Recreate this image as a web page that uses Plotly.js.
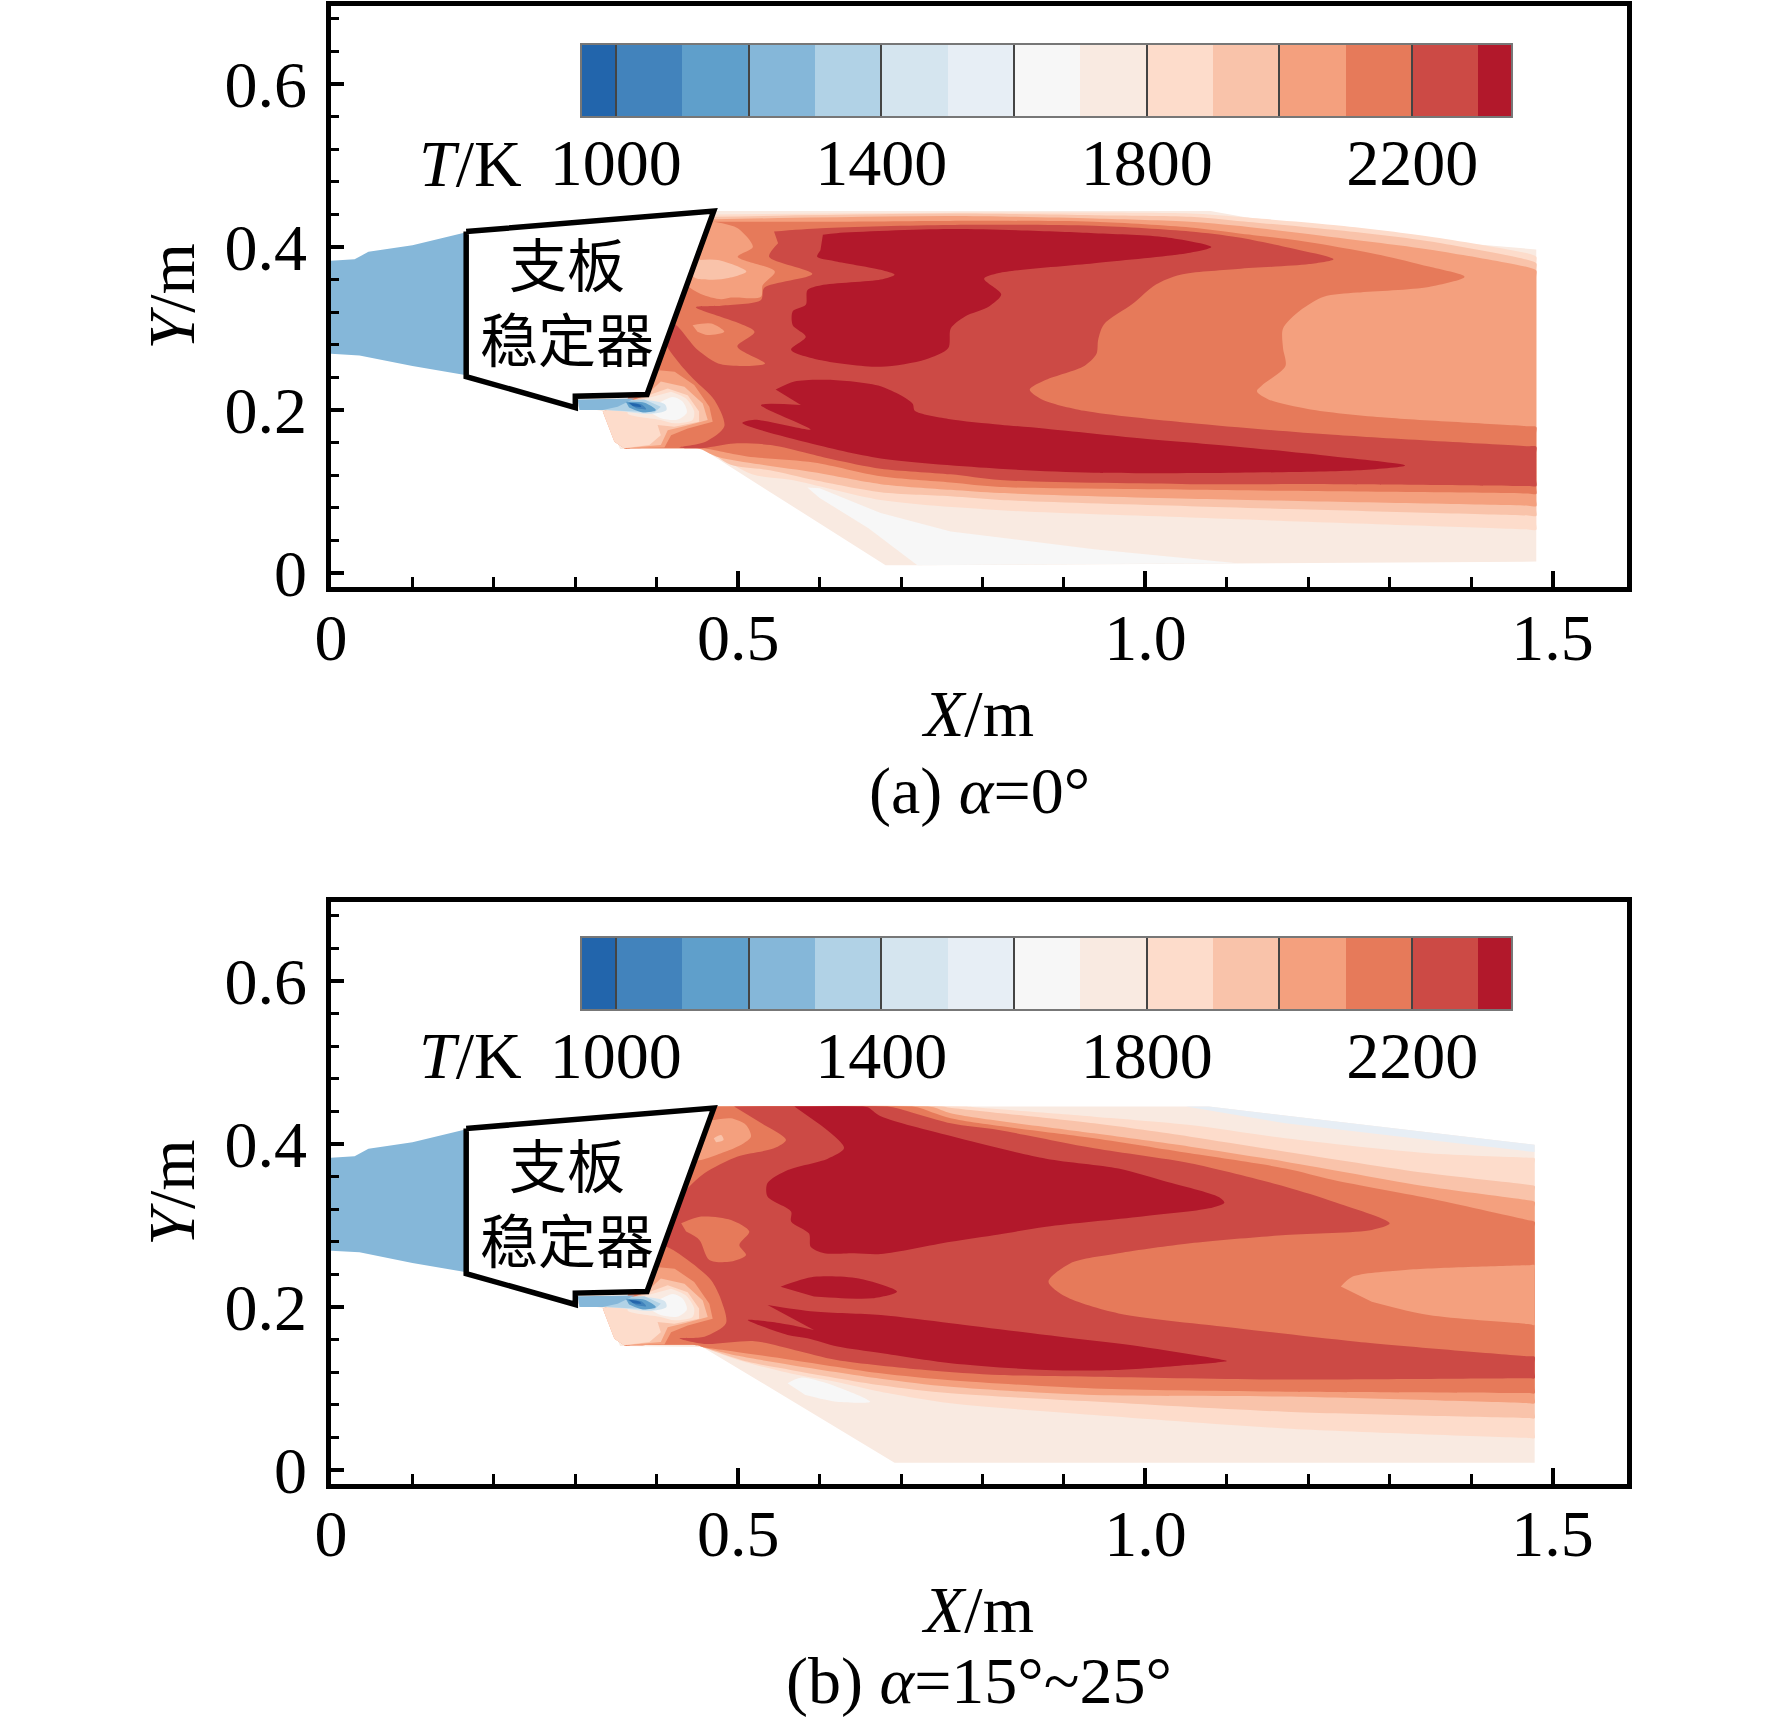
<!DOCTYPE html>
<html>
<head>
<meta charset="utf-8">
<script src="https://cdn.plot.ly/plotly-3.0.1.min.js"></script>
<style>body{margin:0;background:#fff}</style>
</head>
<body>
<div id="plot" style="width:1772px;height:1725px"></div>
<script>
// temperature bands of the colour bar, lower edge of each band in K
var bandEdges = [949,1000,1100,1200,1300,1400,1500,1600,1700,1800,1900,2000,2100,2200,2300,2349];
var bandColors = ['#2265AC','#4283BC','#5F9FCB','#85B7D9','#B1D2E6','#D5E5EF','#E7EEF5','#F7F7F7','#F9EAE1','#FDDCCB','#F9C3AA','#F4A07E','#E67A5A','#CC4A45','#B2182B'];
var barTicks = [1000,1200,1400,1600,1800,2000,2200];
var barLabels = ['1000','','1400','','1800','','2200'];
var xTicks = [0,0.5,1,1.5];
var xLabels = ['0','0.5','1.0','1.5'];
var yTicks = [0,0.2,0.4,0.6];
var yLabels = ['0','0.2','0.4','0.6'];

// walls and inlet, same in both cases ([X,Y] in m)
var strut = [[.166,.419],[.47,.444],[.388,.219],[.30,.217],[.30,.203],[.166,.241],[.166,.419]];
var inlet1200 = [[0,.383],[.029,.385],[.046,.394],[.10,.402],[.17,.419],[.17,.242],[.10,.254],[.035,.267],[0,.269]];
// flat edge below the strut, every hot region closes along it
var tail = [[.45,.153],[.37,.153],[.36,.153],[.36,.16],[.36,.2],[.42,.33]];

// case (a), isotherm regions, each one is T >= its band
var a1700 = [[.47,.444],[1.08,.444],[1.2,.423],[1.35,.408],[1.48,.397],[1.48,.014],[.72,.0095],[.681,.0095],[.456,.152],[.355,.152],[.336,.198],[.30,.205],[.30,.25],[.42,.35]];
var a1600 = [[.585,.105],[.60,.104],[.675,.0735],[.761,.051],[.937,.029],[1.113,.012],[.72,.0095],[.66,.055],[.60,.092]];
var a1800 = [[.47,.44],[.76,.442],[1.055,.441],[1.113,.437],[1.231,.427],[1.348,.413],[1.47,.392],[1.48,.388],[1.48,.38],[1.48,.061],[1.48,.053],[1.47,.0535],[1.055,.068],[.822,.077],[.675,.0895],[.566,.114],[.517,.121],[.459,.1526]].concat(tail);
var a1900 = [[.47,.437],[.76,.441],[.937,.439],[1.055,.437],[1.113,.432],[1.231,.421],[1.348,.407],[1.47,.384],[1.48,.38],[1.48,.372],[1.48,.078],[1.48,.07],[1.47,.0705],[1.055,.082],[.822,.0895],[.761,.094],[.675,.099],[.593,.114],[.539,.126],[.49,.133],[.459,.1526]].concat(tail);
var a2000 = [[.47,.434],[.76,.438],[.937,.435],[1.055,.431],[1.113,.426],[1.231,.412],[1.348,.397],[1.47,.375],[1.48,.371],[1.48,.363],[1.48,.09],[1.48,.082],[1.47,.0825],[1.055,.091],[.822,.098],[.761,.102],[.675,.109],[.593,.1235],[.511,.1356],[.473,.143]].concat(tail);
var a2100 = [[.47,.431],[.602,.431],[.76,.432],[.937,.431],[1.055,.424],[1.113,.417],[1.172,.41],[1.231,.401],[1.29,.39],[1.348,.376],[1.392,.3635],[1.348,.351],[1.26,.344],[1.219,.339],[1.19,.322],[1.169,.30],[1.169,.276],[1.172,.254],[1.143,.23],[1.137,.223],[1.151,.213],[1.201,.201],[1.29,.191],[1.47,.18],[1.48,.179],[1.48,.171],[1.48,.105],[1.48,.097],[1.47,.0975],[1.055,.102],[.822,.1055],[.761,.111],[.675,.1186],[.593,.1356],[.511,.143],[.459,.1526]].concat(tail);
var a2200 = [[.544,.419],[.602,.423],[.76,.427],[.937,.426],[1.055,.419],[1.113,.412],[1.172,.40],[1.231,.385],[1.201,.379],[1.113,.373],[1.043,.366],[1.013,.354],[.984,.33],[.949,.305],[.942,.286],[.94,.269],[.925,.254],[.878,.237],[.858,.225],[.873,.213],[.925,.199],[1.055,.184],[1.231,.1695],[1.47,.1555],[1.48,.155],[1.48,.147],[1.48,.1145],[1.48,.1065],[1.47,.1067],[1.231,.109],[1.055,.109],[.822,.114],[.761,.121],[.675,.128],[.618,.139],[.585,.147],[.54,.157],[.495,.159],[.458,.1535],[.44,.153],[.428,.154],[.46,.161],[.483,.18],[.471,.212],[.446,.237],[.428,.257],[.41,.285],[.42,.306],[.45,.274],[.479,.256],[.533,.257],[.499,.278],[.52,.296],[.448,.326],[.479,.328],[.528,.335],[.532,.35],[.591,.367],[.538,.388],[.549,.4045]];
var a2300up = [[.604,.415],[.621,.417],[.761,.422],[.937,.417],[1.025,.412],[1.081,.40],[1.055,.393],[.937,.38],[.82,.368],[.802,.361],[.823,.342],[.808,.327],[.779,.315],[.761,.30],[.758,.276],[.73,.262],[.675,.253],[.602,.261],[.565,.274],[.583,.29],[.567,.304],[.567,.321],[.583,.329],[.585,.347],[.602,.353],[.675,.36],[.692,.366],[.675,.372],[.622,.382],[.597,.388],[.601,.396]];
var a2300low = [[.546,.225],[.569,.235],[.61,.237],[.675,.229],[.714,.208],[.717,.199],[.758,.189],[.822,.182],[.878,.177],[.996,.165],[1.113,.155],[1.231,.143],[1.319,.132],[1.26,.126],[1.113,.123],[.937,.123],[.82,.128],[.675,.1405],[.585,.16],[.505,.184],[.52,.188],[.589,.176],[.528,.206],[.577,.206]];
// cooler pockets behind the strut in (a)
var a2000pocket = [[.47,.431],[.4994,.423],[.518,.40],[.4994,.388],[.545,.3698],[.53,.353],[.528,.339],[.491,.338],[.479,.336],[.454,.3424],[.436,.3555],[.44,.40]];
var a1900pocket = [[.45,.384],[.475,.384],[.51,.37],[.483,.361],[.448,.3615],[.44,.37]];
var a2000small = [[.444,.304],[.467,.306],[.483,.296],[.462,.292],[.45,.296]];

// case (b)
var b1700 = [[.47,.446],[1.078,.446],[1.478,.399],[1.478,.009],[.692,.009],[.456,.151],[.355,.152],[.336,.198],[.30,.205],[.30,.25],[.42,.35]];
var b1500 = [[1.05,.446],[1.078,.446],[1.478,.399],[1.478,.39],[1.348,.405],[1.172,.4253]];
var b1600 = [[.5606,.1063],[.577,.1133],[.621,.1022],[.662,.0838],[.621,.0838],[.5825,.092]];
var b1800 = [[.47,.446],[.78,.446],[.79,.445],[.937,.4335],[1.055,.4233],[1.172,.407],[1.348,.3885],[1.47,.383],[1.478,.3824],[1.478,.375],[1.478,.047],[1.478,.039],[1.47,.0393],[1.172,.051],[.937,.0675],[.761,.0818],[.675,.096],[.621,.108],[.566,.118],[.50,.135],[.456,.151]].concat(tail);
var b1900 = [[.47,.446],[.75,.446],[.76,.4445],[.937,.4253],[1.055,.409],[1.172,.3906],[1.348,.364],[1.47,.35],[1.478,.3485],[1.478,.341],[1.478,.071],[1.478,.0634],[1.47,.0637],[1.172,.0715],[.937,.084],[.761,.094],[.675,.104],[.566,.1225],[.511,.133],[.456,.151]].concat(tail);
var b2000 = [[.47,.446],[.73,.446],[.74,.445],[.761,.4376],[.937,.413],[1.055,.3967],[1.172,.3783],[1.348,.3476],[1.47,.331],[1.478,.329],[1.478,.321],[1.478,.09],[1.478,.0818],[1.47,.082],[1.172,.09],[.937,.092],[.761,.102],[.675,.112],[.566,.1285],[.50,.14],[.456,.151]].concat(tail);
var b2100 = [[.47,.446],[.71,.446],[.72,.445],[.761,.4315],[.937,.407],[1.055,.3885],[1.172,.37],[1.231,.3558],[1.348,.3333],[1.47,.3065],[1.478,.3047],[1.478,.297],[1.478,.102],[1.478,.094],[1.47,.0943],[1.172,.096],[.937,.10],[.761,.11],[.675,.1186],[.566,.135],[.484,.147],[.456,.151]].concat(tail);
var b2000core = [[1.24,.225],[1.254,.237],[1.319,.2454],[1.47,.2512],[1.478,.2515],[1.478,.244],[1.478,.186],[1.478,.178],[1.47,.179],[1.348,.19],[1.278,.2065]];
var b2200 = [[.495,.446],[.68,.446],[.69,.445],[.761,.4253],[.82,.417],[.937,.3947],[1.055,.3763],[1.172,.3476],[1.231,.3292],[1.30,.3026],[1.278,.2945],[1.172,.2883],[1.055,.2781],[.967,.2658],[.908,.2536],[.881,.231],[.902,.2127],[.967,.192],[1.113,.174],[1.26,.1574],[1.47,.1395],[1.478,.139],[1.478,.131],[1.478,.12],[1.478,.1124],[1.47,.1125],[1.172,.111],[.937,.1145],[.822,.1165],[.73,.1227],[.621,.135],[.57,.147],[.52,.158],[.4585,.1546],[.4278,.1616],[.4585,.1636],[.485,.18],[.479,.2086],[.4666,.233],[.438,.2577],[.411,.274],[.40,.27],[.40,.30],[.438,.3456],[.4585,.364],[.4994,.3845],[.544,.3947],[.5587,.405],[.532,.4234]];
var b2300up = [[.569,.446],[.65,.446],[.659,.445],[.675,.434],[.76,.41],[.878,.382],[.967,.37],[1.025,.354],[1.09,.335],[1.097,.328],[1.078,.321],[.996,.311],[.878,.2985],[.82,.289],[.761,.28],[.675,.265],[.6425,.266],[.6057,.266],[.589,.274],[.587,.29],[.565,.305],[.565,.317],[.536,.3354],[.536,.352],[.561,.368],[.61,.382],[.63,.395],[.6016,.423]];
var b2300mid = [[.552,.2249],[.593,.237],[.648,.235],[.695,.219],[.665,.2106],[.593,.2127]];
var b2300low = [[.536,.2025],[.593,.1943],[.675,.19],[.761,.18],[.878,.1656],[.996,.1513],[1.096,.135],[1.10,.1337],[1.055,.129],[.967,.1227],[.878,.1227],[.761,.131],[.675,.1435],[.622,.1514],[.585,.1616],[.5607,.1657],[.5116,.184],[.552,.18],[.593,.1718]];
var b2100pocket = [[.43,.3027],[.4544,.3109],[.4912,.3068],[.5137,.2925],[.5014,.2761],[.5096,.2638],[.4912,.2557],[.4646,.2577],[.4523,.2823],[.436,.2925]];
var b2000pocket = [[.4707,.4295],[.491,.4315],[.5096,.4234],[.5157,.409],[.4994,.3968],[.479,.3886],[.4544,.3804],[.44,.38],[.46,.43]];
var b1900pocket = [[.47,.407],[.479,.411],[.482,.405],[.4728,.402]];

// cold core under the strut step, same in both cases
var core2000 = [[.399,.249],[.422,.247],[.446,.2306],[.4646,.204],[.4687,.1856],[.438,.1774],[.4176,.169],[.4094,.154],[.36,.153],[.348,.161],[.3337,.198],[.385,.216]];
var core1900 = [[.405,.235],[.434,.2286],[.4565,.208],[.4626,.1877],[.434,.18],[.4135,.175],[.405,.157],[.36,.153],[.348,.161],[.3337,.198],[.387,.218]];
var core1800 = [[.395,.22],[.4135,.2265],[.438,.218],[.452,.198],[.452,.1856],[.4217,.1795],[.401,.1815],[.405,.169],[.391,.157],[.36,.153],[.348,.161],[.3337,.198],[.387,.216]];
var core1700 = [[.4176,.2224],[.436,.214],[.446,.198],[.444,.1877],[.4217,.1836],[.405,.1877],[.364,.196],[.387,.214]];
var core1600 = [[.405,.21],[.42,.216],[.432,.21],[.437,.197],[.425,.188],[.405,.19],[.39,.198]];
var core1400 = [[.34,.20],[.385,.212],[.41,.207],[.412,.2],[.39,.195],[.36,.198]];
var core1300 = [[.307,.211],[.385,.213],[.405,.204],[.397,.197],[.336,.20],[.307,.2]];
var core1200 = [[.303,.213],[.3726,.214],[.352,.204],[.3337,.2],[.305,.2]];
var core1100 = [[.362,.21],[.385,.209],[.399,.2],[.383,.197],[.366,.203]];
var core1000 = [[.364,.209],[.381,.207],[.387,.201],[.375,.202]];
var core949 = [[.366,.209],[.379,.2065],[.381,.204],[.3706,.205]];

// third item: keep straight edges (walls and anything closing on the flat edge)
var coreLayers = [[core2000,2000,1],[core1900,1900,1],[core1800,1800,1],[core1700,1700],[core1600,1600],[core1400,1400],[core1300,1300,1],[core1200,1200,1],[core1100,1100],[core1000,1000],[core949,949]];
var layersA = [[inlet1200,1200,1],[a1700,1700,1],[a1600,1600,1],[a1800,1800],[a1900,1900],[a2000,2000],[a2100,2100],[a2200,2200],[a2000pocket,2000],[a1900pocket,1900],[a2000small,2000]].concat(coreLayers,[[a2300up,2300],[a2300low,2300]]);
var layersB = [[inlet1200,1200,1],[b1700,1700,1],[b1500,1500,1],[b1800,1800],[b1600,1600],[b1900,1900],[b2000,2000],[b2100,2100],[b2000core,2000],[b2200,2200],[b2100pocket,2100],[b2000pocket,2000],[b1900pocket,1900]].concat(coreLayers,[[b2300up,2300],[b2300mid,2300],[b2300low,2300]]);

var FONT = 'Liberation Serif, serif';
var W = 1772, H = 1725;
var traces = [];

function colorOf(t){ return bandColors[bandEdges.indexOf(t)]; }
function xs(pts){ return pts.map(function(p){ return p[0]; }); }
function ys(pts){ return pts.map(function(p){ return p[1]; }); }

function addRegion(pts, t, straight, xa, ya){
  traces.push({type:'scatter', mode:'lines', x:xs(pts), y:ys(pts), xaxis:xa, yaxis:ya,
    fill:'toself', fillcolor:colorOf(t),
    line:{width:0, shape:straight ? 'linear' : 'spline', smoothing:0.8}, hoverinfo:'skip', showlegend:false});
}

function addCase(layers, xa, ya){
  layers.forEach(function(l){ addRegion(l[0], l[1], l[2], xa, ya); });
  traces.push({type:'scatter', mode:'lines', x:xs(strut), y:ys(strut), xaxis:xa, yaxis:ya,
    fill:'toself', fillcolor:'#fff', line:{color:'#000', width:5.5}, hoverinfo:'skip', showlegend:false});
}

function addBar(xa, ya){
  // colour bar is a one row heatmap on its own temperature axis
  var idx = bandColors.map(function(c,i){ return i; });
  var scale = [];
  bandColors.forEach(function(c,i){
    scale.push([i/bandColors.length, c]);
    scale.push([(i+1)/bandColors.length, c]);
  });
  traces.push({type:'heatmap', x:bandEdges, y:[0,1], z:[idx], xaxis:xa, yaxis:ya,
    zmin:0, zmax:bandColors.length, colorscale:scale, showscale:false, hoverinfo:'skip'});
}

addCase(layersA, 'x', 'y');
addCase(layersB, 'x2', 'y2');
addBar('x3', 'y3');
addBar('x4', 'y4');

function xAxis(anchor, title){
  return {domain:[331/W,1627/W], range:[0,1.5914], anchor:anchor, tickmode:'array', tickvals:xTicks, ticktext:xLabels,
    ticks:'inside', ticklen:16, tickwidth:4, tickcolor:'#000', showline:true, mirror:true, linecolor:'#000', linewidth:4.5,
    showgrid:false, zeroline:false, tickfont:{family:FONT, size:66, color:'#000'}, ticklabelstandoff:-11,
    minor:{tick0:0, dtick:0.1, ticks:'inside', ticklen:10, tickwidth:3, tickcolor:'#000', showgrid:false},
    title:{text:title, font:{family:FONT, size:66, color:'#000'}, standoff:18}};
}
function yAxis(anchor, top, bottom, low, high, title){
  return {domain:[1-bottom/H,1-top/H], range:[low,high], anchor:anchor, tickmode:'array', tickvals:yTicks, ticktext:yLabels,
    ticks:'inside', ticklen:13, tickwidth:4, tickcolor:'#000', showline:true, mirror:true, linecolor:'#000', linewidth:4.5,
    showgrid:false, zeroline:false, tickfont:{family:FONT, size:66, color:'#000'}, ticklabelstandoff:6,
    minor:{tick0:0, dtick:0.04, ticks:'inside', ticklen:8, tickwidth:3, tickcolor:'#000', showgrid:false},
    title:{text:title, font:{family:FONT, size:66, color:'#000'}, standoff:10}};
}
function barX(anchor){
  return {domain:[582/W,1511/W], range:[949,2349], anchor:anchor, tickmode:'array', tickvals:barTicks, ticktext:barLabels,
    ticks:'inside', ticklen:71, tickwidth:2, tickcolor:'#444', showline:true, mirror:true, linecolor:'#777', linewidth:2,
    showgrid:false, zeroline:false, tickfont:{family:FONT, size:66, color:'#000'}, ticklabelstandoff:-12};
}
function barY(anchor, top, bottom){
  return {domain:[1-bottom/H,1-top/H], range:[0,1], anchor:anchor, showticklabels:false, ticks:'', showgrid:false, zeroline:false,
    showline:true, mirror:true, linecolor:'#777', linewidth:2};
}

function note(text, x, y, size){
  return {text:text, xref:'paper', yref:'paper', x:x/W, y:1-y/H, xanchor:'center', yanchor:'middle', showarrow:false,
    font:{family:FONT, size:size, color:'#000'}};
}
function plate(x, y, xa, ya){
  return {text:'支板<br>稳定器', xref:xa, yref:ya, x:x, y:y, xanchor:'center', yanchor:'middle', showarrow:false,
    font:{family:'Noto Sans CJK SC', size:58, color:'#000'}};
}

var layout = {
  width:W, height:H, margin:{l:0,r:0,t:0,b:0}, paper_bgcolor:'#fff', plot_bgcolor:'rgba(0,0,0,0)', showlegend:false,
  xaxis:xAxis('y','<i>X</i>/m'), yaxis:yAxis('x',5.5,587,-.0172,.6963,'<i>Y</i>/m'),
  xaxis2:xAxis('y2','<i>X</i>/m'), yaxis2:yAxis('x2',901.5,1483.5,-.0166,.6975,'<i>Y</i>/m'),
  xaxis3:barX('y3'), yaxis3:barY('x3',45,116),
  xaxis4:barX('y4'), yaxis4:barY('x4',938,1009),
  annotations:[
    note('<i>T</i>/K',470,163,66),
    note('<i>T</i>/K',470,1055,66),
    note('(a) <i>α</i>=0°',979,791,66),
    note('(b) <i>α</i>=15°~25°',979,1681,66),
    plate(.29,.335,'x','y'),
    plate(.29,.331,'x2','y2')
  ]
};

Plotly.newPlot('plot', traces, layout, {displayModeBar:false});
</script>
</body>
</html>
